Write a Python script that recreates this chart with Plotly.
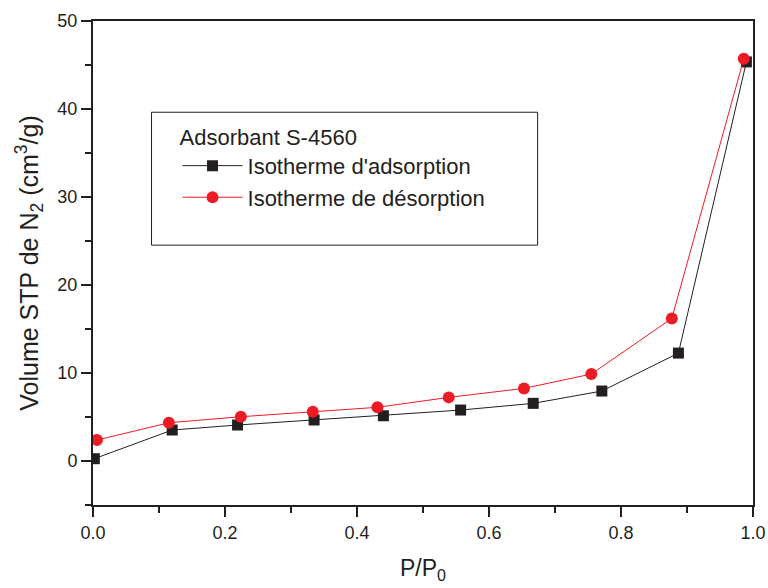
import plotly.graph_objects as go

# Data
ads_x = [0.002, 0.120, 0.219, 0.335, 0.440, 0.557, 0.667, 0.771, 0.887, 0.990]
ads_y = [0.26, 3.52, 4.09, 4.66, 5.14, 5.79, 6.55, 7.95, 12.26, 45.35]
des_x = [0.006, 0.115, 0.224, 0.333, 0.431, 0.539, 0.653, 0.755, 0.877, 0.986]
des_y = [2.38, 4.35, 5.03, 5.60, 6.10, 7.23, 8.25, 9.88, 16.20, 45.70]

legend_title = "Adsorbant S-4560"
name_ads = "Isotherme d'adsorption"
name_des = "Isotherme de désorption"

FONT = "Liberation Sans, Arial, sans-serif"
INK = "#231f20"

fig = go.Figure()
fig.add_trace(go.Scatter(
    x=ads_x, y=ads_y, mode="lines+markers", name=name_ads,
    line=dict(color=INK, width=1),
    marker=dict(symbol="square", size=11, color=INK),
))
fig.add_trace(go.Scatter(
    x=des_x, y=des_y, mode="lines+markers", name=name_des,
    line=dict(color="#ed1c24", width=1),
    marker=dict(symbol="circle", size=12, color="#ed1c24"),
))

axis_common = dict(
    showgrid=False, zeroline=False, showline=True, linecolor=INK,
    linewidth=2, mirror=True, ticks="outside", ticklen=10, tickwidth=1.5,
    tickcolor=INK, tickfont=dict(size=18, color=INK, family=FONT),
    automargin=False,
)

fig.update_xaxes(
    range=[0, 1], dtick=0.2, tickformat=".1f",
    minor=dict(dtick=0.1, ticks="outside", ticklen=6, tickwidth=1.5, tickcolor=INK),
    title=dict(text="P/P<sub>0</sub>", font=dict(size=23, color=INK, family=FONT), standoff=18),
    **axis_common,
)
fig.update_yaxes(
    range=[-5, 50], tick0=0, dtick=10,
    minor=dict(dtick=5, ticks="outside", ticklen=6, tickwidth=1.5, tickcolor=INK),
    title=dict(text="Volume STP de N<sub>2</sub> (cm<sup>3</sup>/g)", font=dict(size=25, color=INK, family=FONT), standoff=12),
    **axis_common,
)

fig.add_shape(type="rect", xref="x", yref="y",
              x0=(152 - 93.5) / 659.8, x1=(538 - 93.5) / 659.8,
              y0=(461 - 245) / 8.806, y1=(461 - 112) / 8.806,
              line=dict(color=INK, width=1), fillcolor="rgba(0,0,0,0)", layer="below")

fig.update_layout(
    width=768, height=588,
    margin=dict(l=93, r=15, t=21, b=83),
    paper_bgcolor="white", plot_bgcolor="white",
    font=dict(family=FONT, color=INK),
    legend=dict(
        title=dict(text=legend_title, font=dict(size=22, color=INK, family=FONT)),
        font=dict(size=22, color=INK, family=FONT),
        x=(178 - 93.5) / 659.8, y=(461 - 116) / 8.806 / 55 + 5 / 55, xanchor="left", yanchor="top",
        bgcolor="rgba(0,0,0,0)", borderwidth=0, tracegroupgap=0, itemwidth=60,
    ),
    showlegend=True,
)

fig.write_html("out.html")
